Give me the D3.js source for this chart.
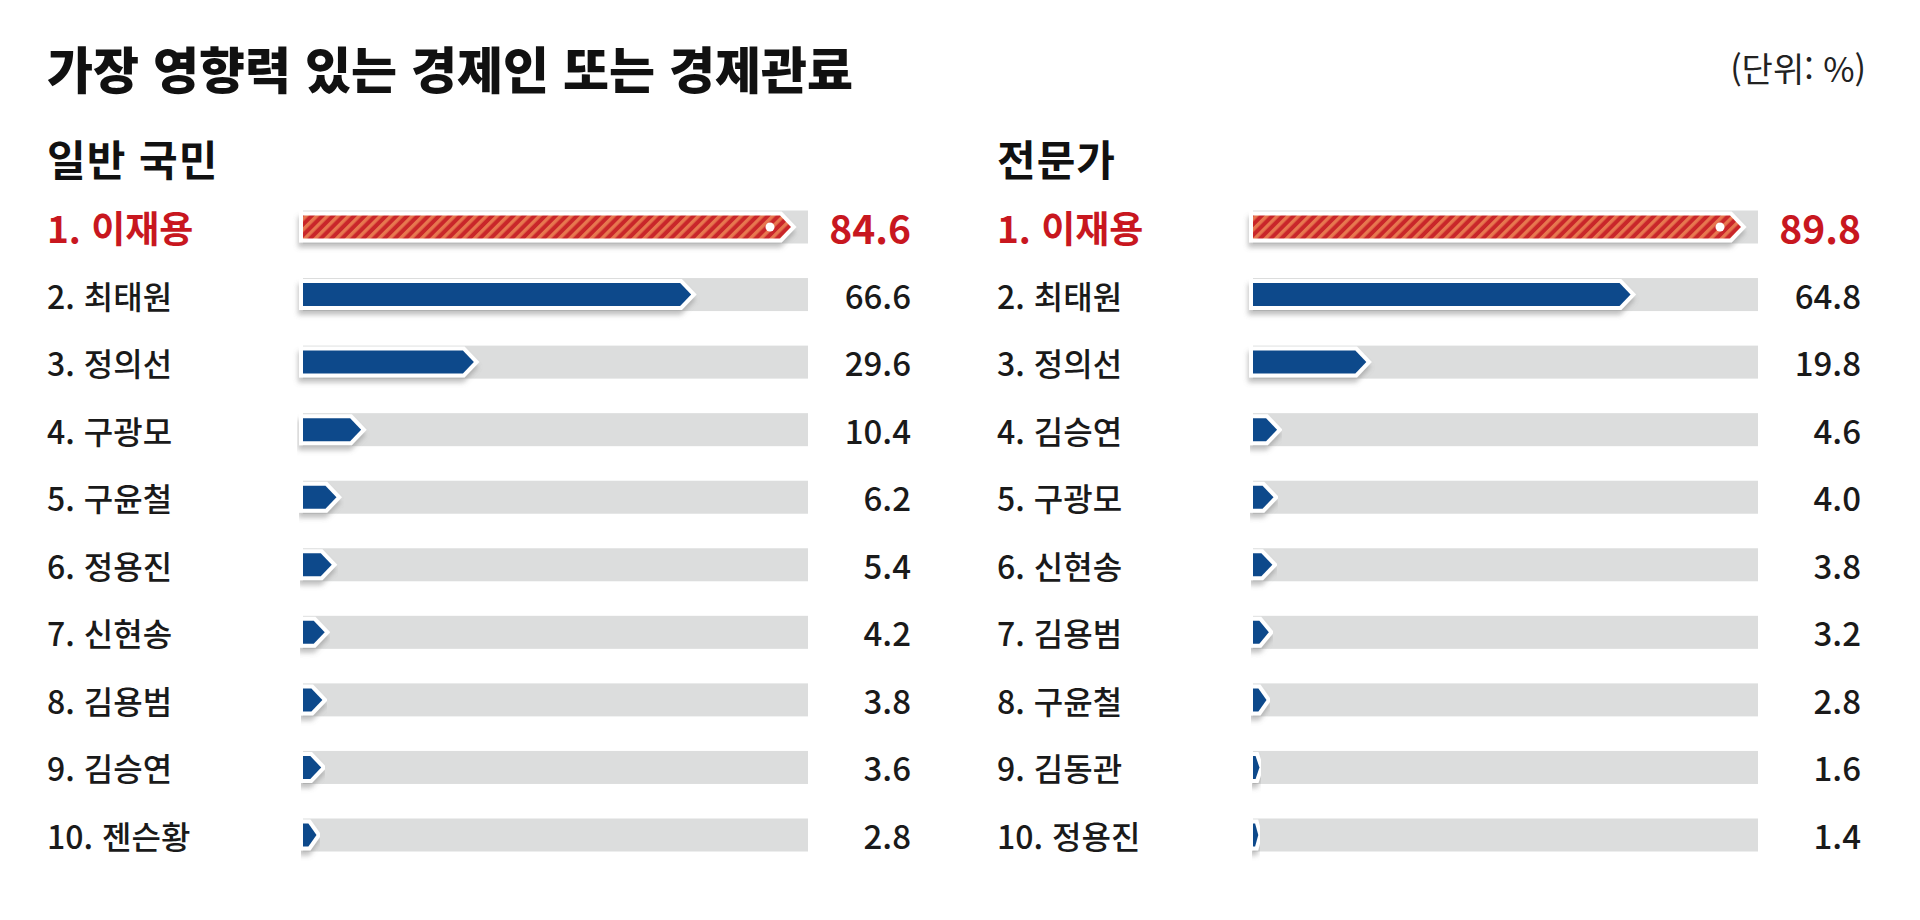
<!DOCTYPE html>
<html lang="ko">
<head>
<meta charset="UTF-8">
<script src="https://d3js.org/d3.v7.min.js"></script>
<title>가장 영향력 있는 경제인 또는 경제관료</title>
<style>
  body { margin: 0; background: #fff; }
  text { font-family: "Noto Sans CJK KR", "Noto Sans", sans-serif; }
</style>
</head>
<body>
<div id="chart"></div>
<script>
// data
const titleText = "가장 영향력 있는 경제인 또는 경제관료";
const unitText = "(단위: %)";
const panelTitles = ["일반 국민", "전문가"];

const publicNames = ["이재용", "최태원", "정의선", "구광모", "구윤철", "정용진", "신현송", "김용범", "김승연", "젠슨황"];
const publicValues = [84.6, 66.6, 29.6, 10.4, 6.2, 5.4, 4.2, 3.8, 3.6, 2.8];

const expertNames = ["이재용", "최태원", "정의선", "김승연", "구광모", "신현송", "김용범", "구윤철", "김동관", "정용진"];
const expertValues = [89.8, 64.8, 19.8, 4.6, 4.0, 3.8, 3.2, 2.8, 1.6, 1.4];

const width = 1920, height = 920;
const red = "#c8171f", blue = "#0f4a8b", track = "#dcdddd";

const svg = d3.select("#chart").append("svg")
    .attr("width", width).attr("height", height);

const defs = svg.append("defs");

// red/orange diagonal stripes for the first place bar
const pat = defs.append("pattern").attr("id", "stripes")
    .attr("patternUnits", "userSpaceOnUse")
    .attr("width", 7.5).attr("height", 7.5)
    .attr("patternTransform", "rotate(45)");
pat.append("rect").attr("width", 7.5).attr("height", 7.5).attr("fill", "#c9262b");
pat.append("rect").attr("width", 3.4).attr("height", 7.5).attr("fill", "#e7774f");

// soft shadow under each bar
const f = defs.append("filter").attr("id", "shadow")
    .attr("x", "-10%").attr("y", "-50%").attr("width", "130%").attr("height", "220%");
f.append("feDropShadow").attr("dx", -1).attr("dy", 5).attr("stdDeviation", 2.5)
    .attr("flood-color", "#777").attr("flood-opacity", 0.45);

svg.append("text")
    .attr("x", 47).attr("y", 67)
    .attr("dominant-baseline", "central")
    .attr("font-size", 50).attr("font-weight", 900).attr("fill", "#111")
    .text(titleText);

svg.append("text")
    .attr("x", 1866).attr("y", 67)
    .attr("text-anchor", "end").attr("dominant-baseline", "central")
    .attr("font-size", 34).attr("fill", "#222")
    .text(unitText);

const y = d3.scalePoint().domain(d3.range(10)).range([227, 835]);
const fmt = d3.format(".1f");
const barH = 23, trackH = 33;

function drawPanel(offset, title, names, values) {
    const g = svg.append("g").attr("transform", `translate(${offset},0)`);
    const x = d3.scaleLinear().domain([0.5, 86.5]).range([303, 808]);
    const x0 = 303, x1 = 808;

    g.append("text")
        .attr("x", 47).attr("y", 157)
        .attr("dominant-baseline", "central")
        .attr("font-size", 42).attr("font-weight", 700).attr("fill", "#111")
        .attr("letter-spacing", 1)
        .text(title);

    const rows = g.selectAll("g.row")
        .data(names.map((n, i) => ({name: n, value: values[i], i: i})))
        .join("g").attr("class", "row");

    rows.append("rect")
        .attr("x", x0).attr("y", d => y(d.i) - trackH / 2)
        .attr("width", x1 - x0).attr("height", trackH)
        .attr("fill", track);

    rows.append("path")
        .attr("d", d => {
            const tip = Math.min(x(d.value), x1 - 17);
            const len = tip - x0;
            const depth = Math.min(11, len * 0.6);
            const top = y(d.i) - barH / 2, bot = y(d.i) + barH / 2;
            return `M${x0},${top}L${tip - depth},${top}L${tip},${y(d.i)}L${tip - depth},${bot}L${x0},${bot}Z`;
        })
        .attr("fill", d => d.i === 0 ? "url(#stripes)" : blue)
        .attr("stroke", "#fff").attr("stroke-width", 8)
        .attr("stroke-linejoin", "miter")
        .attr("paint-order", "stroke")
        .attr("filter", "url(#shadow)");

    // small white dot near the tip of the leader's bar
    rows.filter(d => d.i === 0).append("circle")
        .attr("cx", d => Math.min(x(d.value), x1 - 17) - 21)
        .attr("cy", d => y(d.i))
        .attr("r", 4.5).attr("fill", "#fff");

    rows.append("text")
        .attr("x", 47).attr("y", d => y(d.i))
        .attr("dominant-baseline", "central")
        .attr("font-size", d => d.i === 0 ? 37 : 32)
        .attr("font-weight", d => d.i === 0 ? 700 : 500)
        .attr("fill", d => d.i === 0 ? red : "#1a1a1a")
        .text(d => `${d.i + 1}. ${d.name}`);

    rows.append("text")
        .attr("x", 911).attr("y", d => y(d.i))
        .attr("text-anchor", "end").attr("dominant-baseline", "central")
        .attr("font-size", d => d.i === 0 ? 39 : 33)
        .attr("font-weight", d => d.i === 0 ? 700 : 500)
        .attr("fill", d => d.i === 0 ? red : "#1a1a1a")
        .text(d => fmt(d.value));
}

drawPanel(0, panelTitles[0], publicNames, publicValues);
drawPanel(950, panelTitles[1], expertNames, expertValues);
</script>
</body>
</html>
